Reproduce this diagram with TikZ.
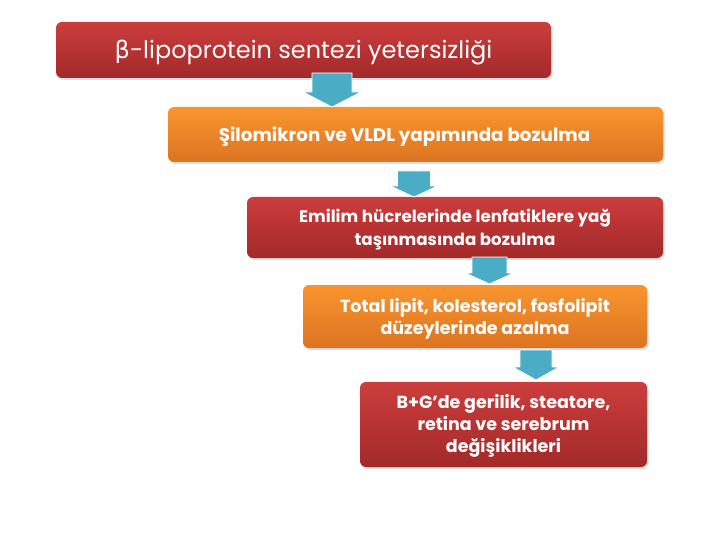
\documentclass[tikz,border=0pt]{standalone}
\usepackage{fontspec}
\setmainfont{Poppins}
\newfontfamily\grk{DejaVu Sans}
\usetikzlibrary{shadows}
\definecolor{redtop}{HTML}{CC3D3D}
\definecolor{redbot}{HTML}{A32929}
\definecolor{ortop}{HTML}{F9952F}
\definecolor{orbot}{HTML}{DC7420}
\definecolor{arrowblue}{HTML}{4BACC6}
\newcommand\blockarr[6]{%
  \fill[arrowblue, draw=white, line width=0.8pt] (#1-#5,#2) -- (#1+#5,#2) -- (#1+#5,#3) -- (#1+#6,#3) -- (#1,#4) -- (#1-#6,#3) -- (#1-#5,#3) -- cycle;}
\tikzset{
  box/.style={rectangle, rounded corners=6pt, inner sep=0pt,
    drop shadow={opacity=0.25, shadow xshift=1.5pt, shadow yshift=-2pt}},
  redbox/.style={box, top color=redtop, bottom color=redbot},
  orbox/.style={box, top color=ortop, bottom color=orbot},
  txt/.style={text=white, align=center, inner sep=0pt},
}
\begin{document}
\begin{tikzpicture}[x=1pt,y=-1pt]
\useasboundingbox[fill=white] (0,0) rectangle (720,540);
\node[redbox, minimum width=495pt, minimum height=56pt] (b1) at (303.5,50) {};
\node[txt, font=\fontsize{24}{26}\selectfont] (t1) at ([yshift=-3pt]b1.center)
  {{\grk β}-lipoprotein sentezi yetersizliği};
\node[orbox, minimum width=495pt, minimum height=55pt] (b2) at (415.5,134.5) {};
\node[txt, font=\fontsize{18.3}{22}\selectfont\bfseries] (t2) at ([xshift=-11pt,yshift=-2pt]b2.center)
  {Şilomikron ve VLDL yapımında bozulma};
\node[redbox, minimum width=416pt, minimum height=61pt] (b3) at (455,227.5) {};
\node[txt, font=\fontsize{16.7}{23}\selectfont\bfseries] (t3) at ([yshift=-2pt]b3.center)
  {Emilim hücrelerinde lenfatiklere yağ\\taşınmasında bozulma};
\node[orbox, minimum width=344pt, minimum height=63pt] (b4) at (475,316.5) {};
\node[txt, font=\fontsize{17.5}{22}\selectfont\bfseries] (t4) at ([yshift=-2pt]b4.center)
  {Total lipit, kolesterol, fosfolipit\\düzeylerinde azalma};
\node[redbox, minimum width=287pt, minimum height=85pt] (b5) at (503.5,424.5) {};
\node[txt, font=\fontsize{17.5}{22}\selectfont\bfseries] (t5) at ([yshift=-1.5pt]b5.center)
  {B+G’de gerilik, steatore,\\retina ve serebrum\\değişiklikleri};
\blockarr{332}{73}{92}{107}{20}{29}
\blockarr{414}{171}{186}{197}{16.5}{23.5}
\blockarr{489.5}{257}{273}{284}{17.5}{24}
\blockarr{536}{350}{367}{380}{16}{23}
\end{tikzpicture}
\end{document}
